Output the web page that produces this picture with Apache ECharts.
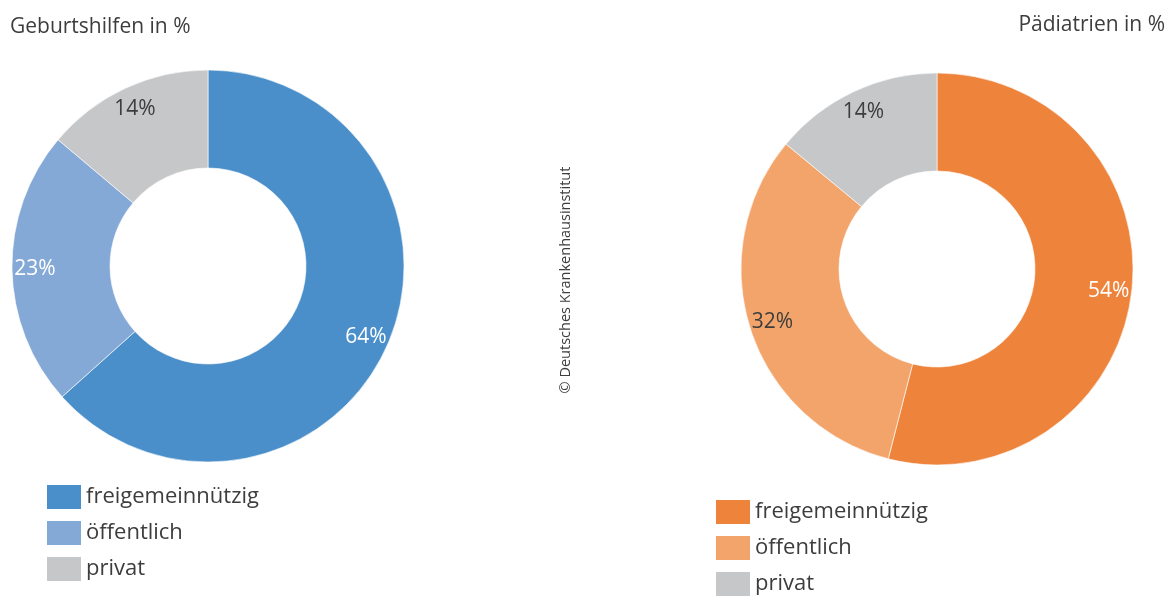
<!DOCTYPE html>
<html>
<head>
<meta charset="utf-8">
<script src="https://cdn.jsdelivr.net/npm/echarts@6/dist/echarts.min.js"></script>
<style>
  html, body { margin: 0; padding: 0; background: #ffffff; }
  #chart { width: 1174px; height: 597px; }
</style>
</head>
<body>
<div id="chart"></div>
<script>
// Ownership groups shown in both donuts
const categories = ['freigemeinnützig', 'öffentlich', 'privat'];

// Share of hospitals per ownership group, in percent
const geburtshilfeValues = [64, 23, 14];
const paediatrieValues = [54, 32, 14];

const titles = ['Geburtshilfen in %', 'Pädiatrien in %'];
const sourceNote = '© Deutsches Krankenhausinstitut';

const blueColors = ['#4a8fca', '#85a9d6', '#c6c7c9'];
const orangeColors = ['#ee843c', '#f3a46b', '#c6c7c9'];
const blueLabelColors = ['#ffffff', '#ffffff', '#3d3d3d'];
const orangeLabelColors = ['#ffffff', '#3d3d3d', '#3d3d3d'];

const FONT = '"Open Sans", "Noto Sans", sans-serif';
const TEXT = '#3d3d3d';

function ringData(values, colors) {
  return categories.map((name, i) => ({ name, value: values[i], itemStyle: { color: colors[i] } }));
}

function labelData(values, labelColors) {
  return categories.map((name, i) => ({
    name, value: values[i],
    label: { color: labelColors[i] }
  }));
}

function donut(center, values, colors) {
  return {
    type: 'pie',
    center: center,
    radius: [98, 196],
    startAngle: 90,
    clockwise: true,
    silent: true,
    label: { show: false },
    labelLine: { show: false },
    itemStyle: { borderColor: '#ffffff', borderWidth: 0.6 },
    data: ringData(values, colors)
  };
}

// Transparent ring used only to place the percentage labels in the outer part of the donut
function donutLabels(center, values, labelColors) {
  return {
    type: 'pie',
    center: center,
    radius: [144, 196],
    startAngle: 90,
    clockwise: true,
    silent: true,
    itemStyle: { color: 'rgba(0,0,0,0)' },
    label: {
      show: true,
      position: 'inside',
      formatter: '{c}%',
      fontFamily: FONT,
      fontSize: 21
    },
    labelLine: { show: false },
    data: labelData(values, labelColors)
  };
}

function legend(left, top, colors) {
  return {
    orient: 'vertical',
    left: left,
    top: top,
    height: 110,
    padding: 0,
    icon: 'rect',
    itemWidth: 34,
    itemHeight: 24,
    itemGap: 12,
    selectedMode: false,
    textStyle: { fontFamily: FONT, fontSize: 22, color: TEXT, padding: [3, 0, 0, 0] },
    data: categories.map((name, i) => ({ name, itemStyle: { color: colors[i], borderWidth: 0 } }))
  };
}

const chart = echarts.init(document.getElementById('chart'), null, { renderer: 'canvas' });

chart.setOption({
  backgroundColor: '#ffffff',
  animation: false,
  title: [
    { text: titles[0], left: 10, top: 17, padding: 0, textStyle: { fontFamily: FONT, fontSize: 21, fontWeight: 'normal', color: TEXT } },
    { text: titles[1], right: 9, top: 15, padding: 0, textStyle: { fontFamily: FONT, fontSize: 21, fontWeight: 'normal', color: TEXT } }
  ],
  legend: [
    legend(47, 485, blueColors),
    legend(716, 500, orangeColors)
  ],
  series: [
    donut([208, 266], geburtshilfeValues, blueColors),
    donutLabels([208, 266], geburtshilfeValues, blueLabelColors),
    donut([937, 269], paediatrieValues, orangeColors),
    donutLabels([937, 269], paediatrieValues, orangeLabelColors)
  ],
  graphic: [
    {
      type: 'text',
      x: 566,
      y: 280,
      rotation: Math.PI / 2,
      style: {
        text: sourceNote,
        fontFamily: FONT,
        fontSize: 14.5,
        fill: TEXT,
        align: 'center',
        verticalAlign: 'middle'
      }
    }
  ]
});
</script>
</body>
</html>
